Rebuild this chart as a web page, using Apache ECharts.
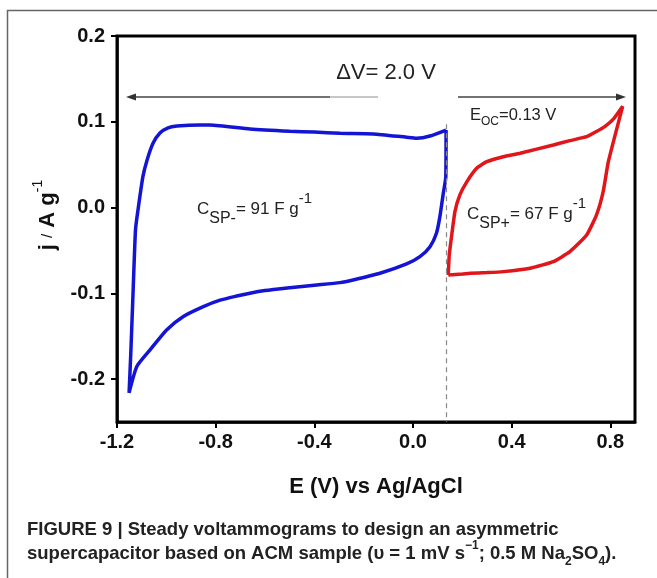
<!DOCTYPE html>
<html><head><meta charset="utf-8">
<script src="https://cdn.jsdelivr.net/npm/echarts@6/dist/echarts.min.js"></script>
<style>html,body{margin:0;padding:0;background:#fff}#c{width:657px;height:578px}</style>
</head><body><div id="c"></div>
<script>
// ---- data ----
const xTicks = [-1.2, -0.8, -0.4, 0.0, 0.4, 0.8];
const yTicks = [-0.2, -0.1, 0.0, 0.1, 0.2];
const eOC = 0.136;
// negative electrode (blue) CV loop: E (V), j (A/g)
const negE = [0.134, 0.133, 0.123, 0.109, 0.095, 0.069, 0.028, -0.026, -0.134, -0.243, -0.296, -0.4, -0.5, -0.6, -0.661, -0.715, -0.782, -0.850, -0.931, -0.999, -1.066, -1.120, -1.151, -1.144, -1.134, -1.125, -1.115, -1.095, -1.078, -1.054, -1.026, -0.993, -0.957, -0.864, -0.823, -0.661, -0.5, -0.4, -0.296, -0.161, -0.026, 0.015, 0.069, 0.134];
const negJ = [0.0904, 0.036, 0.017, -0.0106, -0.030, -0.0456, -0.0572, -0.0657, -0.0766, -0.0844, -0.0875, -0.0905, -0.0935, -0.0968, -0.0998, -0.1032, -0.108, -0.1155, -0.127, -0.1427, -0.166, -0.1855, -0.216, -0.1695, -0.092, -0.026, -0.003, 0.036, 0.0555, 0.075, 0.087, 0.093, 0.095, 0.0963, 0.0963, 0.0916, 0.089, 0.088, 0.0866, 0.0858, 0.0819, 0.0808, 0.0834, 0.0904];
// positive electrode (red) CV loop
const posE = [0.143, 0.2, 0.231, 0.3, 0.366, 0.475, 0.569, 0.636, 0.704, 0.744, 0.771, 0.792, 0.85, 0.815, 0.78, 0.74, 0.704, 0.636, 0.569, 0.434, 0.366, 0.299, 0.258, 0.218, 0.190, 0.170, 0.157, 0.147, 0.143];
const posJ = [-0.0786, -0.0775, -0.0766, -0.0758, -0.0747, -0.0707, -0.063, -0.0514, -0.032, -0.0086, 0.0185, 0.0535, 0.118, 0.104, 0.095, 0.088, 0.0826, 0.078, 0.073, 0.0633, 0.0593, 0.0535, 0.0458, 0.030, 0.0147, -0.0048, -0.032, -0.0552, -0.0786];

const FONT = "'Liberation Sans', Arial, sans-serif";
const zip = (a, b) => a.map((v, i) => [v, b[i]]);

const chart = echarts.init(document.getElementById('c'), null, {renderer: 'canvas'});
const option = {
  animation: false,
  backgroundColor: '#fff',
  grid: {left: 117, right: 22, top: 36, bottom: 156, show: true, borderColor: '#000', borderWidth: 3},
  xAxis: {
    type: 'value', min: -1.2, max: 0.9,
    axisLine: {onZero: false, lineStyle: {color: '#000', width: 2.5}},
    axisTick: {customValues: xTicks, length: 6, lineStyle: {color: '#000', width: 2}},
    axisLabel: {customValues: xTicks, formatter: v => v.toFixed(1), fontFamily: FONT, fontWeight: 'bold', fontSize: 20, color: '#111', margin: 10},
    splitLine: {show: false}
  },
  yAxis: {
    type: 'value', min: -0.25, max: 0.2,
    axisLine: {show: true, onZero: false, lineStyle: {color: '#000', width: 2.5}},
    axisTick: {show: true, customValues: yTicks, length: 6, lineStyle: {color: '#000', width: 2}},
    axisLabel: {customValues: yTicks, formatter: v => v.toFixed(1), fontFamily: FONT, fontWeight: 'bold', fontSize: 20, color: '#111', margin: 12},
    splitLine: {show: false}
  },
  series: [
    {type: 'line', data: zip(negE, negJ), showSymbol: false, smooth: 0.2,
     lineStyle: {color: '#1414d4', width: 3.5}, z: 3,
     markLine: {silent: true, symbol: ['none', 'none'], label: {show: false},
       lineStyle: {color: '#888', type: [5, 4], width: 1.2},
       data: [[{coord: [eOC, 0.097]}, {coord: [eOC, -0.25]}]]}},
    {type: 'line', data: zip(posE, posJ), showSymbol: false, smooth: 0.15,
     lineStyle: {color: '#e0161b', width: 3.5}, z: 3}
  ],
  graphic: [
    {type: 'rect', shape: {x: 7.5, y: 10.5, width: 700, height: 700}, style: {fill: 'none', stroke: '#666', lineWidth: 1.5}, z: -1},
    // arrows
    {type: 'line', shape: {x1: 132, y1: 97, x2: 330, y2: 97}, style: {stroke: '#444', lineWidth: 1.3}},
    {type: 'line', shape: {x1: 330, y1: 97, x2: 378, y2: 97}, style: {stroke: '#b5b5b5', lineWidth: 1.3}},
    {type: 'polygon', shape: {points: [[126, 97], [136, 93.5], [136, 100.5]]}, style: {fill: '#333'}},
    {type: 'line', shape: {x1: 458, y1: 97, x2: 620, y2: 97}, style: {stroke: '#444', lineWidth: 1.3}},
    {type: 'polygon', shape: {points: [[626, 97], [616, 93.5], [616, 100.5]]}, style: {fill: '#333'}},
    // texts
    {type: 'text', x: 386, y: 73, style: {text: 'ΔV= 2.0 V', font: "22px 'Liberation Sans'", fill: '#222', align: 'center', verticalAlign: 'middle'}},
    {type: 'text', x: 470, y: 115, style: {text: '{b|E}{s|OC}{b|=0.13 V}', fill: '#222', verticalAlign: 'middle',
      rich: {b: {fontFamily: FONT, fontSize: 16.5, lineHeight: 26, fill: '#222'}, s: {fontFamily: FONT, fontSize: 12, lineHeight: 12, verticalAlign: 'bottom', fill: '#222'}}}},
    {type: 'text', x: 197, y: 209, style: {text: '{b|C}{s|SP-}{b|= 91 F g}{p|-1}', verticalAlign: 'middle',
      rich: {b: {fontFamily: FONT, fontSize: 17, lineHeight: 36, fill: '#222'}, s: {fontFamily: FONT, fontSize: 16, lineHeight: 16, verticalAlign: 'bottom', fill: '#222'}, p: {fontFamily: FONT, fontSize: 15, lineHeight: 6, verticalAlign: 'top', fill: '#222'}}}},
    {type: 'text', x: 467, y: 214, style: {text: '{b|C}{s|SP+}{b|= 67 F g}{p|-1}', verticalAlign: 'middle',
      rich: {b: {fontFamily: FONT, fontSize: 17, lineHeight: 36, fill: '#222'}, s: {fontFamily: FONT, fontSize: 16, lineHeight: 16, verticalAlign: 'bottom', fill: '#222'}, p: {fontFamily: FONT, fontSize: 15, lineHeight: 6, verticalAlign: 'top', fill: '#222'}}}},
    // axis names
    {type: 'text', x: 376, y: 487, style: {text: 'E (V) vs Ag/AgCl', font: "bold 22px 'Liberation Sans'", fill: '#111', align: 'center', verticalAlign: 'middle'}},
    {type: 'text', x: 48, y: 215, rotation: Math.PI / 2, style: {text: '{b|j }{sl|/}{b| A g}{p|-1}', align: 'center', verticalAlign: 'middle',
      rich: {b: {fontFamily: FONT, fontWeight: 'bold', fontSize: 22, lineHeight: 34, fill: '#111'}, sl: {fontFamily: FONT, fontSize: 15, lineHeight: 34, fill: '#111'}, p: {fontFamily: FONT, fontSize: 14, lineHeight: 8, verticalAlign: 'top', fill: '#111'}}}},
    // caption
    {type: 'text', x: 27, y: 530, style: {text: 'FIGURE 9 | Steady voltammograms to design an asymmetric', font: "bold 18.5px 'Liberation Sans'", fill: '#222', verticalAlign: 'middle'}},
    {type: 'text', x: 27, y: 554, style: {text: '{b|supercapacitor based on ACM sample (}{n|υ = }{b|1 mV s}{p|−1}{b|; 0.5 M Na}{s|2}{b|SO}{s|4}{b|).}', verticalAlign: 'middle',
      rich: {b: {fontFamily: FONT, fontWeight: 'bold', fontSize: 18.5, lineHeight: 28, fill: '#222'},
             n: {fontFamily: FONT, fontWeight: 'bold', fontSize: 18.5, lineHeight: 28, fill: '#222'},
             p: {fontFamily: FONT, fontWeight: 'bold', fontSize: 12, lineHeight: 8, verticalAlign: 'top', fill: '#222'},
             s: {fontFamily: FONT, fontWeight: 'bold', fontSize: 12, lineHeight: 12, verticalAlign: 'bottom', fill: '#222'}}}}
  ]
};
chart.setOption(option);
</script></body></html>
